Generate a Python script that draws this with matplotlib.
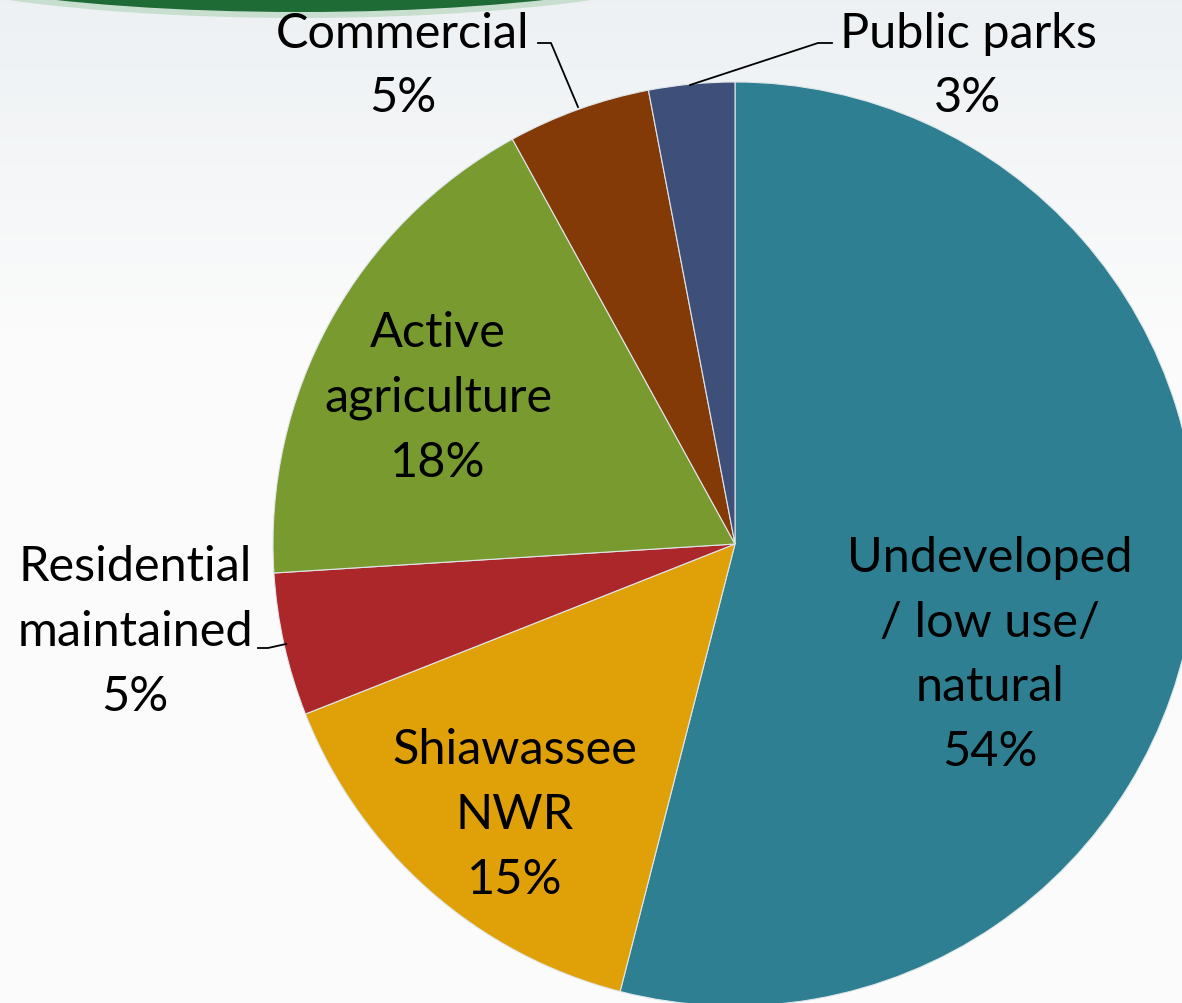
import matplotlib
matplotlib.use("Agg")
import matplotlib.pyplot as plt
import numpy as np
from matplotlib.patches import Ellipse

labels = ["Undeveloped\n/ low use/\nnatural", "Shiawassee\nNWR", "Residential\nmaintained",
          "Active\nagriculture", "Commercial", "Public parks"]
values = [54, 15, 5, 18, 5, 3]
pct_text = ["54%", "15%", "5%", "18%", "5%", "3%"]
colors = ["#2E7F91", "#E0A108", "#AC272A", "#789A2F", "#833A07", "#3E4F79"]

W, H = 1182, 1004
CX, CY, R = 735, 545, 462


def d(px, py):
    return (px - CX) / R, (CY - py) / R


plt.rcParams["font.family"] = ["Lato", "DejaVu Sans"]
fig = plt.figure(figsize=(W / 100, H / 100), dpi=100)
ax = fig.add_axes([0, 0, 1, 1])
x0, y1 = d(0, 0)
x1, y0 = d(W, H)

# soft background
grad = np.linspace(0, 1, 200)[:, None] * np.ones((1, 10))
bg = np.zeros((200, 10, 3))
top = np.array([0.93, 0.945, 0.955])
bot = np.array([0.985, 0.985, 0.985])
for i in range(3):
    bg[:, :, i] = top[i] + (bot[i] - top[i]) * np.clip(grad * 3, 0, 1)
ax.imshow(bg, extent=(x0, x1, y0, y1), aspect="auto", zorder=0)

# green band at top-left
ex, ey = d(300, -62)
ax.add_patch(Ellipse((ex, ey), 930 / R, 162 / R, color="#b9d8c2", alpha=0.7, zorder=1, lw=0))
ax.add_patch(Ellipse((ex, ey), 900 / R, 150 / R, color="#1E6B35", zorder=1, lw=0))

wedges, _ = ax.pie(values, colors=colors, startangle=90, counterclock=False,
                   radius=1, center=(0, 0),
                   wedgeprops=dict(edgecolor="#dfe6ea", linewidth=0.8))
for w in wedges:
    w.set_zorder(2)

fs = 35
ls = 1.57
txt = dict(fontsize=fs, ha="center", va="center", linespacing=ls, zorder=5, color="black")

label_pos = [(990, 655), (515, 815), (135, 632), (438, 398), (403, 66), (968, 66)]
for lab, pct, (px, py) in zip(labels, pct_text, label_pos):
    ax.text(*d(px, py), lab + "\n" + pct, **txt)

# leader lines
leaders = [
    [(258, 649), (268, 649), (286, 645)],
    [(538, 44), (551, 44), (578, 108)],
    [(832, 44), (818, 44), (690, 86)],
]
for pts in leaders:
    xs, ys = zip(*[d(*p) for p in pts])
    ax.plot(xs, ys, color="black", lw=1.3, zorder=4)

ax.set_xlim(x0, x1)
ax.set_ylim(y0, y1)
ax.set_aspect("auto")
ax.axis("off")
fig.savefig("out.png", dpi=100)
